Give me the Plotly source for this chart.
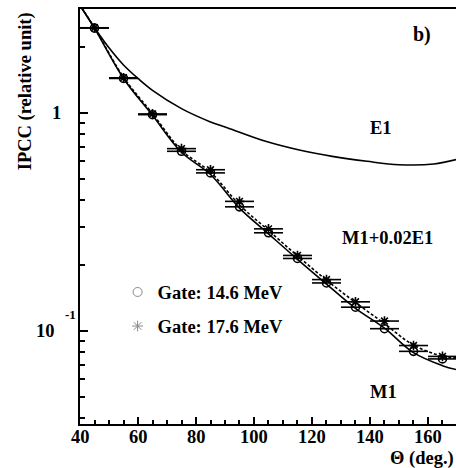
import plotly.graph_objects as go

# ---- data ----
theta = [45, 55, 65, 75, 85, 95, 105, 115, 125, 135, 145, 155, 165]
theta_err = [5] * 13
gate_146 = [2.45, 1.44, 0.982, 0.667, 0.531, 0.371, 0.282, 0.215, 0.166, 0.1285, 0.1024, 0.0806, 0.0744]
gate_176 = [2.46, 1.45, 0.99, 0.686, 0.549, 0.393, 0.294, 0.222, 0.172, 0.136, 0.111, 0.0857, 0.0764]

e1_theta = [40.6, 45, 50, 55, 60, 65, 75, 85, 91, 104, 116, 127, 139, 150, 162, 169.7]
e1_vals = [3.03, 2.46, 1.99, 1.66, 1.44, 1.27, 1.047, 0.91, 0.853, 0.741, 0.674, 0.632, 0.600, 0.579, 0.583, 0.611]

m1_theta = [40.6, 45, 55, 65, 75, 85, 95, 105, 115, 125, 135, 145, 155, 165, 169.7]
m1_vals = [3.03, 2.45, 1.44, 0.975, 0.66, 0.522, 0.366, 0.279, 0.213, 0.164, 0.127, 0.103, 0.0795, 0.0693, 0.0665]
mix_vals = [3.03, 2.46, 1.46, 0.993, 0.674, 0.535, 0.379, 0.289, 0.221, 0.171, 0.135, 0.108, 0.0861, 0.0766, 0.0752]

x_ticks = [40, 60, 80, 100, 120, 140, 160]
x_tick_labels = ["40", "60", "80", "100", "120", "140", "160"]
y_tick_vals = [0.1, 1]
y_minor = [0.04, 0.05, 0.06, 0.07, 0.08, 0.09, 0.2, 0.3, 0.4, 0.5, 0.6, 0.7, 0.8, 0.9, 2, 3]

FONT = "Liberation Serif"
fs = 18.5

fig = go.Figure()

line_style = dict(color="black", width=1.6)
fig.add_trace(go.Scatter(x=e1_theta, y=e1_vals, mode="lines", line=dict(shape="spline", **line_style), showlegend=False))
fig.add_trace(go.Scatter(x=m1_theta, y=m1_vals, mode="lines", line=dict(shape="spline", **line_style), showlegend=False))
fig.add_trace(go.Scatter(x=m1_theta, y=mix_vals, mode="lines",
                         line=dict(shape="spline", color="black", width=1.6, dash="3px,2px"), showlegend=False))

err = dict(type="data", array=theta_err, symmetric=True, color="black", thickness=1.6, width=0)
fig.add_trace(go.Scatter(x=theta, y=gate_146, mode="markers", error_x=err,
                         marker=dict(symbol="circle-open", size=8, color="black", line=dict(width=1.6)),
                         showlegend=False))
fig.add_trace(go.Scatter(x=theta, y=gate_176, mode="markers", error_x=err,
                         marker=dict(symbol="asterisk-open", size=8, color="black", line=dict(width=1.6)),
                         showlegend=False))

# legend entries
fig.add_trace(go.Scatter(x=[None], y=[None], mode="markers", name="<b>Gate: 14.6 MeV</b>",
                         marker=dict(symbol="circle-open", size=9, color="#888", line=dict(width=1)),
                         legend="legend"))
fig.add_trace(go.Scatter(x=[None], y=[None], mode="markers", name="<b>Gate: 17.6 MeV</b>",
                         marker=dict(symbol="asterisk-open", size=9, color="#888", line=dict(width=1)),
                         legend="legend2"))

leg_common = dict(font=dict(family=FONT, size=fs, color="black"), bgcolor="rgba(0,0,0,0)",
                  xanchor="left", yanchor="middle", itemwidth=30)
fig.update_layout(
    legend=dict(x=0.1, y=0.317, **leg_common),
    legend2=dict(x=0.1, y=0.235, **leg_common),
)

fig.update_xaxes(range=[40, 169.66], showline=True, linewidth=2, linecolor="black", mirror=True,
                 ticks="inside", ticklen=7, tickwidth=1.5, tickcolor="black",
                 tickvals=x_ticks, showticklabels=False,
                 minor=dict(ticks="inside", dtick=5, ticklen=4, tickwidth=1.5, tickcolor="black"),
                 showgrid=False, zeroline=False)
fig.update_yaxes(type="log", range=[-1.427, 0.477], showline=True, linewidth=2, linecolor="black",
                 ticks="inside", ticklen=8, tickwidth=1.5, tickcolor="black",
                 tickvals=y_tick_vals, showticklabels=False,
                 minor=dict(ticks="inside", tickvals=y_minor, ticklen=5, tickwidth=1.5, tickcolor="black"),
                 showgrid=False, zeroline=False)

ann = []
tf = dict(family=FONT, size=fs, color="black")
# x tick labels
for v, lab in zip(x_ticks, x_tick_labels):
    ann.append(dict(x=v, y=-0.0313, xref="x", yref="paper", text="<b>%s</b>" % lab, showarrow=False,
                    xanchor="center", yanchor="middle", borderpad=0, font=tf))
# y tick labels
ann.append(dict(x=-0.045, y=0, xref="paper", yref="y", text="<b>1</b>", showarrow=False,
                xanchor="right", yanchor="middle", font=tf))
ann.append(dict(x=-0.062, y=-1, xref="paper", yref="y", text="<b>10</b>", showarrow=False,
                xanchor="right", yanchor="middle", font=tf))
ann.append(dict(x=-0.005, y=-1, xref="paper", yref="y", text="<b>-1</b>", showarrow=False,
                xanchor="right", yanchor="bottom", yshift=7, font=dict(family=FONT, size=13, color="black")))
# labels
for txt, xv, yv, size in [("b)", 157.9, 0.359, 20), ("E1", 143.8, -0.0697, fs),
                          ("M1+0.02E1", 145.9, -0.572, fs), ("M1", 144.7, -1.278, fs)]:
    ann.append(dict(x=xv, y=yv, xref="x", yref="y", text="<b>%s</b>" % txt, showarrow=False,
                    xanchor="center", yanchor="middle", font=dict(family=FONT, size=size, color="black")))
# axis titles
ann.append(dict(x=-0.146, y=0.802, xref="paper", yref="paper", text="<b>IPCC (relative unit)</b>",
                textangle=-90, showarrow=False, xanchor="center", yanchor="middle", font=tf))
ann.append(dict(x=0.997, y=-0.082, xref="paper", yref="paper", text="<b>Θ (deg.)</b>", borderpad=0,
                showarrow=False, xanchor="right", yanchor="middle", font=tf))
fig.update_layout(annotations=ann)

fig.update_layout(
    width=456, height=468,
    margin=dict(l=80, r=0, t=9, b=44),
    paper_bgcolor="white", plot_bgcolor="white",
    font=dict(family=FONT, size=fs, color="black"),
)

fig.write_html("out.html")
